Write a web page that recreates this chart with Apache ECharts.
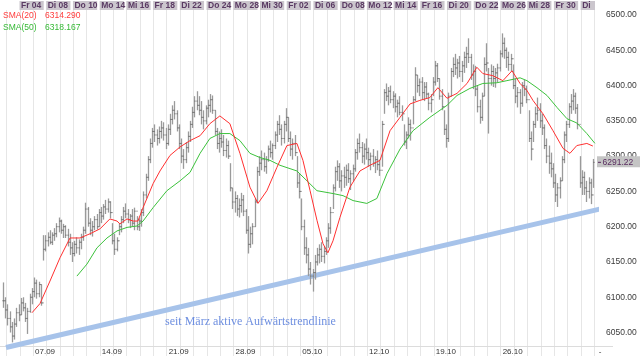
<!DOCTYPE html>
<html><head><meta charset="utf-8">
<script src="https://cdn.jsdelivr.net/npm/echarts@6/dist/echarts.min.js"></script>
<style>html,body{margin:0;padding:0;background:#fff}#c{width:640px;height:356px}</style>
</head><body><div id="c"></div>
<script>
// ---- data (hourly-ish bars, 6 per trading day) ----
const highs = [6121,6100,6090,6080,6065,6070,6085,6090,6099,6100,6092,6085,6105,6113,6128,6125,6122,6118,6188,6188,
6192,6195,6192,6198,6205,6213,6210,6204,6202,6197,6190,6178,6180,6185,6182,6190,6200,6234,6228,6212,
6208,6215,6218,6225,6228,6232,6238,6240,6236,6205,6190,6185,6205,6215,6228,6233,6225,6218,6225,6227,
6215,6212,6225,6250,6275,6300,6325,6340,6345,6338,6342,6350,6348,6340,6345,6360,6372,6378,6365,6345,
6325,6310,6320,6335,6350,6370,6385,6392,6385,6378,6365,6372,6380,6388,6386,6365,6340,6335,6338,6330,
6325,6322,6290,6255,6250,6245,6240,6248,6245,6225,6215,6200,6205,6240,6285,6300,6308,6305,6300,6315,
6322,6318,6335,6350,6358,6345,6350,6368,6355,6335,6325,6330,6300,6275,6240,6210,6185,6170,6150,6140,
6160,6170,6175,6178,6172,6185,6205,6228,6260,6285,6294,6290,6280,6285,6288,6290,6280,6288,6310,6325,
6332,6320,6318,6325,6312,6305,6310,6300,6308,6295,6350,6395,6403,6398,6400,6392,6389,6380,6385,6372,
6345,6335,6355,6352,6385,6426,6415,6410,6412,6405,6405,6390,6388,6412,6435,6432,6410,6395,6365,6345,
6390,6425,6440,6445,6438,6442,6435,6448,6455,6467,6445,6430,6428,6400,6380,6390,6440,6460,6425,6430,
6428,6425,6431,6450,6474,6468,6454,6448,6445,6430,6410,6398,6395,6405,6408,6400,6365,6335,6350,6370,
6383,6375,6360,6345,6325,6315,6305,6290,6275,6262,6270,6300,6335,6350,6375,6388,6395,6390,6374,6300,
6280,6278,6265,6270,6268,6296];
const lows = [6085,6070,6060,6050,6036,6040,6058,6066,6075,6080,6065,6048,6078,6090,6100,6098,6100,6088,6152,6165,
6172,6175,6174,6180,6185,6192,6190,6184,6184,6172,6160,6150,6158,6162,6160,6168,6180,6190,6200,6188,
6186,6195,6196,6200,6205,6210,6218,6220,6212,6175,6160,6165,6188,6192,6205,6212,6205,6198,6200,6195,
6195,6194,6200,6215,6240,6265,6290,6312,6320,6315,6318,6325,6322,6310,6315,6330,6345,6352,6335,6310,
6290,6282,6290,6305,6320,6340,6355,6365,6358,6345,6338,6345,6355,6362,6360,6330,6310,6305,6312,6300,
6298,6296,6250,6225,6220,6215,6213,6220,6215,6190,6162,6170,6175,6200,6235,6272,6280,6278,6275,6292,
6298,6295,6310,6320,6330,6315,6318,6335,6320,6300,6295,6300,6255,6240,6195,6160,6148,6130,6118,6108,
6125,6145,6148,6150,6148,6160,6170,6190,6225,6250,6265,6255,6250,6255,6258,6262,6252,6265,6278,6295,
6305,6290,6288,6295,6285,6280,6285,6276,6280,6272,6285,6360,6378,6372,6375,6368,6362,6355,6358,6350,
6315,6310,6325,6322,6345,6378,6390,6385,6380,6378,6382,6365,6362,6385,6400,6405,6380,6365,6330,6312,
6320,6385,6412,6415,6410,6412,6405,6418,6425,6432,6408,6395,6385,6362,6346,6350,6385,6420,6332,6400,
6398,6397,6405,6420,6440,6438,6425,6421,6420,6395,6375,6369,6360,6370,6385,6375,6320,6294,6320,6340,
6350,6340,6330,6310,6290,6275,6270,6255,6235,6228,6240,6265,6290,6320,6340,6360,6365,6360,6338,6255,
6245,6245,6235,6240,6232,6255];
const closes = [6095,6082,6070,6058,6045,6062,6078,6075,6092,6085,6070,6080,6100,6108,6120,6105,6118,6092,6168,6180,
6185,6178,6188,6190,6200,6208,6195,6200,6188,6178,6170,6162,6175,6170,6178,6185,6195,6225,6205,6195,
6200,6210,6200,6220,6215,6228,6225,6235,6220,6180,6168,6180,6200,6210,6222,6218,6210,6215,6205,6222,
6200,6208,6220,6245,6270,6295,6318,6335,6330,6325,6335,6340,6330,6318,6338,6352,6365,6360,6340,6318,
6300,6295,6312,6328,6345,6362,6378,6372,6365,6355,6350,6368,6372,6380,6365,6335,6318,6325,6320,6308,
6315,6300,6255,6235,6240,6225,6230,6238,6222,6195,6175,6190,6200,6235,6278,6290,6295,6285,6295,6310,
6305,6315,6330,6345,6338,6325,6345,6355,6325,6310,6318,6305,6262,6250,6200,6170,6160,6140,6130,6135,
6150,6160,6168,6158,6165,6180,6198,6220,6255,6278,6285,6265,6272,6270,6280,6268,6275,6282,6305,6318,
6312,6300,6310,6305,6295,6300,6290,6295,6288,6280,6345,6390,6385,6392,6380,6385,6370,6375,6362,6360,
6320,6330,6345,6340,6380,6415,6400,6405,6390,6398,6388,6375,6380,6405,6428,6410,6385,6370,6338,6325,
6385,6420,6430,6425,6432,6420,6428,6440,6445,6440,6415,6420,6395,6370,6355,6385,6430,6432,6410,6420,
6410,6418,6425,6445,6460,6450,6440,6430,6438,6400,6385,6390,6375,6400,6395,6380,6325,6310,6345,6360,
6365,6350,6340,6315,6300,6290,6282,6262,6245,6255,6265,6295,6330,6345,6370,6378,6385,6368,6345,6262,
6270,6255,6250,6262,6245,6291.22];
const barsPerDay = 6;
const firstBarDay = -1.235;          // trading-day position of the first bar (0 = Fr 04.09)
// moving averages: [bar index, value]
const sma20Points = [[13,6078],[16.6,6091],[21.1,6123],[25.6,6156],[30.1,6184],[34.6,6184],[39.1,6190],[43.6,6197],
[48,6211],[51.2,6208],[52.5,6204],[55.7,6211],[58.4,6208],[60.6,6208],[62.9,6227],[67.4,6261],[70.5,6279],
[75,6301],[79.5,6313],[84,6322],[88.5,6329],[92.9,6346],[97.4,6357],[101.9,6346],[106.4,6304],[110.9,6256],
[114.5,6233],[118.5,6251],[123,6284],[127.5,6315],[132,6318],[134.7,6294],[137.9,6251],[141,6209],[143.7,6176],
[145.9,6163],[148.2,6180],[151.3,6213],[155.8,6256],[160.3,6279],[164.8,6287],[169.3,6294],[173.8,6336],
[178.3,6355],[182.8,6374],[187.2,6379],[191.7,6383],[195.3,6397],[199.4,6382],[203.9,6389],[208.4,6403],
[212.8,6426],[215.5,6417],[220,6414],[224.5,6407],[228.6,6421],[232.2,6403],[235.3,6393],[238,6379],
[242.5,6360],[247,6336],[251.5,6311],[254.6,6304],[257.7,6315],[262.2,6318],[264.9,6314.29]];
const sma50Points = [[33.2,6130],[37.7,6147],[42.2,6170],[46.7,6184],[51.2,6194],[55.7,6199],[60.2,6201],[62.9,6208],
[67.4,6227],[73.6,6251],[79.5,6265],[84,6277],[88.5,6304],[92.9,6325],[97.4,6332],[101.9,6332],[106.4,6322],
[110.9,6304],[115.4,6298],[119.9,6294],[124.4,6287],[132,6279],[136.5,6265],[141,6251],[148.2,6247],
[152.7,6244],[157.2,6237],[163.4,6233],[167.9,6240],[172.4,6275],[178.3,6310],[184.1,6336],[191.7,6355],
[199.4,6372],[203.9,6386],[209.7,6396],[215.5,6403],[221.8,6404],[226.3,6407],[232.2,6411],[235.3,6407],
[239.8,6397],[244.3,6386],[248.8,6369],[253.3,6353],[257.7,6347],[262.2,6332],[265.8,6318.17]];
const sma20Last = '6314.290';
const sma50Last = '6318.167';
const lastPriceLabel = '6291.22';
const topLabels = ['Fr 04','Di 08','Do 10','Mo 14','Mi 16','Fr 18','Di 22','Do 24','Mo 28','Mi 30','Fr 02',
'Di 06','Do 08','Mo 12','Mi 14','Fr 16','Di 20','Do 22','Mo 26','Mi 28','Fr 30','Di'];
const dateLabels = ['07.09','14.09','21.09','28.09','05.10','12.10','19.10','26.10','-'];
const dateLabelDays = [1,6,11,16,21,26,31,36,42.55];
const yTicks = [6050,6100,6150,6200,6250,6300,6350,6400,6450,6500];
const trendLine = [[-1.01,6028.7],[44.72,6230.7]];
const trendText = 'seit März aktive Aufwärtstrendlinie';

// ---- build ----
const barX = i => firstBarDay + i / barsPerDay;
const barData = highs.map((h, i) => [barX(i), lows[i], h, closes[i], i ? closes[i - 1] : closes[0]]);
const sma20 = sma20Points.map(p => [barX(p[0]), p[1]]);
const sma50 = sma50Points.map(p => [barX(p[0]), p[1]]);
const gridDays = []; for (let d = -1; d <= 43; d++) gridDays.push(d);
const topData = topLabels.map((t, k) => [k * 2, t]);
const dateData = dateLabels.map((t, k) => [dateLabelDays[k], t]);
const FONT = '"Liberation Sans", Arial, sans-serif';

const chart = echarts.init(document.getElementById('c'), null, {renderer: 'canvas'});
chart.setOption({
  animation: false,
  backgroundColor: '#fff',
  grid: {left: 0, right: 44, top: 0, bottom: 10},
  xAxis: {type: 'value', min: -1.4596, max: 43.15, show: false},
  yAxis: {type: 'value', position: 'right', min: 6030.9, max: 6521.3, scale: true,
    axisLine: {show: false}, axisTick: {show: false}, splitLine: {show: false},
    axisLabel: {customValues: yTicks, margin: 10, color: '#3a3a3a', fontSize: 8.5, fontFamily: FONT,
      formatter: v => (Math.abs(v % 50) < 0.01 ? v.toFixed(2) : '')}},
  graphic: [
    {type: 'text', x: 3, y: 15.5, z: 100, style: {text: 'SMA(20)', fill: '#ff3b3b', font: '8.5px ' + FONT, verticalAlign: 'middle'}},
    {type: 'text', x: 45, y: 15.5, z: 100, style: {text: sma20Last, fill: '#ff3b3b', font: '8.5px ' + FONT, verticalAlign: 'middle'}},
    {type: 'text', x: 3, y: 27.5, z: 100, style: {text: 'SMA(50)', fill: '#35b935', font: '8.5px ' + FONT, verticalAlign: 'middle'}},
    {type: 'text', x: 45, y: 27.5, z: 100, style: {text: sma50Last, fill: '#35b935', font: '8.5px ' + FONT, verticalAlign: 'middle'}},
    {type: 'text', x: 165, y: 322, z: 100, style: {text: trendText, fill: '#6e8fe0', font: '12px "Liberation Serif", "Times New Roman", serif', verticalAlign: 'middle'}}
  ],
  series: [
    { // vertical day grid
      type: 'custom', silent: true, z: 0, data: gridDays,
      renderItem: (params, api) => {
        const cs = params.coordSys;
        const x = Math.round(api.coord([api.value(0), 6300])[0]) + 0.5;
        return {type: 'line', shape: {x1: x, y1: cs.y + 10, x2: x, y2: cs.y + cs.height + 10},
          style: {stroke: '#e6e6e6', lineWidth: 1}};
      }
    },
    { // bottom base line
      type: 'custom', silent: true, z: 0, data: [0],
      renderItem: (params, api) => {
        const cs = params.coordSys;
        const y = cs.y + cs.height + 0.5;
        return {type: 'line', shape: {x1: cs.x, y1: y, x2: cs.x + cs.width + 17, y2: y},
          style: {stroke: '#dcdcdc', lineWidth: 1}};
      }
    },
    { // top day labels
      type: 'custom', silent: true, z: 5, data: topData,
      renderItem: (params, api) => {
        const cs = params.coordSys;
        const x0 = api.coord([api.value(0), 6300])[0];
        const x1 = api.coord([api.value(0) + 2, 6300])[0] - 2.5;
        const xe = Math.min(x1, cs.x + cs.width - 1);
        return {type: 'group', children: [
          {type: 'rect', shape: {x: x0, y: 1, width: xe - x0, height: 9}, style: {fill: '#cbc6cd'}},
          {type: 'text', style: {text: topLabels[params.dataIndex], x: x0 + 1.5, y: 5.8, fill: '#5a3a63',
            font: 'bold 8.5px "Liberation Sans Narrow", "Arial Narrow", ' + FONT, verticalAlign: 'middle', align: 'left'}}
        ]};
      }
    },
    { // bottom date labels
      type: 'custom', silent: true, z: 5, data: dateData,
      renderItem: (params, api) => {
        const cs = params.coordSys;
        const x0 = api.coord([api.value(0), 6300])[0];
        return {type: 'text', style: {text: dateLabels[params.dataIndex], x: x0 + 12.2, y: cs.y + cs.height + 5.5,
          fill: '#333', font: '8px ' + FONT, align: 'center', verticalAlign: 'middle'}};
      }
    },
    { // trend line
      type: 'line', data: trendLine, clip: false, symbol: 'none', z: 1, silent: true,
      lineStyle: {color: '#a7c3ea', width: 5}
    },
    { // price bars
      type: 'custom', z: 2, data: barData, silent: true,
      renderItem: (params, api) => {
        const x = api.value(0);
        const lo = api.coord([x, api.value(1)]);
        const hi = api.coord([x, api.value(2)]);
        const cl = api.coord([x, api.value(3)]);
        const op = api.coord([x, api.value(4)]);
        const px = Math.round(lo[0]) + 0.5;
        return {type: 'group', children: [
          {type: 'line', shape: {x1: px, y1: lo[1], x2: px, y2: hi[1]}, style: {stroke: '#9a9a9a', lineWidth: 1.3}},
          {type: 'line', shape: {x1: px - 1, y1: op[1], x2: px, y2: op[1]}, style: {stroke: '#5a5a5a', lineWidth: 1}},
          {type: 'line', shape: {x1: px, y1: cl[1], x2: px + 1, y2: cl[1]}, style: {stroke: '#5a5a5a', lineWidth: 1}}
        ]};
      }
    },
    {type: 'line', name: 'SMA(50)', data: sma50, symbol: 'none', z: 3, silent: true, lineStyle: {color: '#3cc23c', width: 1}},
    {type: 'line', name: 'SMA(20)', data: sma20, symbol: 'none', z: 4, silent: true, lineStyle: {color: '#ff3030', width: 1}},
    { // last price marker on the axis
      type: 'custom', z: 6, silent: true, data: [[barX(closes.length - 1), closes[closes.length - 1]]],
      renderItem: (params, api) => {
        const cs = params.coordSys;
        const p = api.coord([api.value(0), api.value(1)]);
        const xr = cs.x + cs.width + 1;
        return {type: 'group', children: [
          {type: 'rect', shape: {x: xr, y: p[1] - 6, width: 640 - xr, height: 11}, style: {fill: '#c4c4c4'}},
          {type: 'line', shape: {x1: xr + 1, y1: p[1], x2: xr + 4, y2: p[1]}, style: {stroke: '#5a2d60', lineWidth: 1}},
          {type: 'text', style: {text: lastPriceLabel, x: xr + 5.5, y: p[1] + 0.5, fill: '#5a2d60', font: '8.5px ' + FONT,
            verticalAlign: 'middle', align: 'left'}}
        ]};
      }
    }
  ]
});
</script></body></html>
